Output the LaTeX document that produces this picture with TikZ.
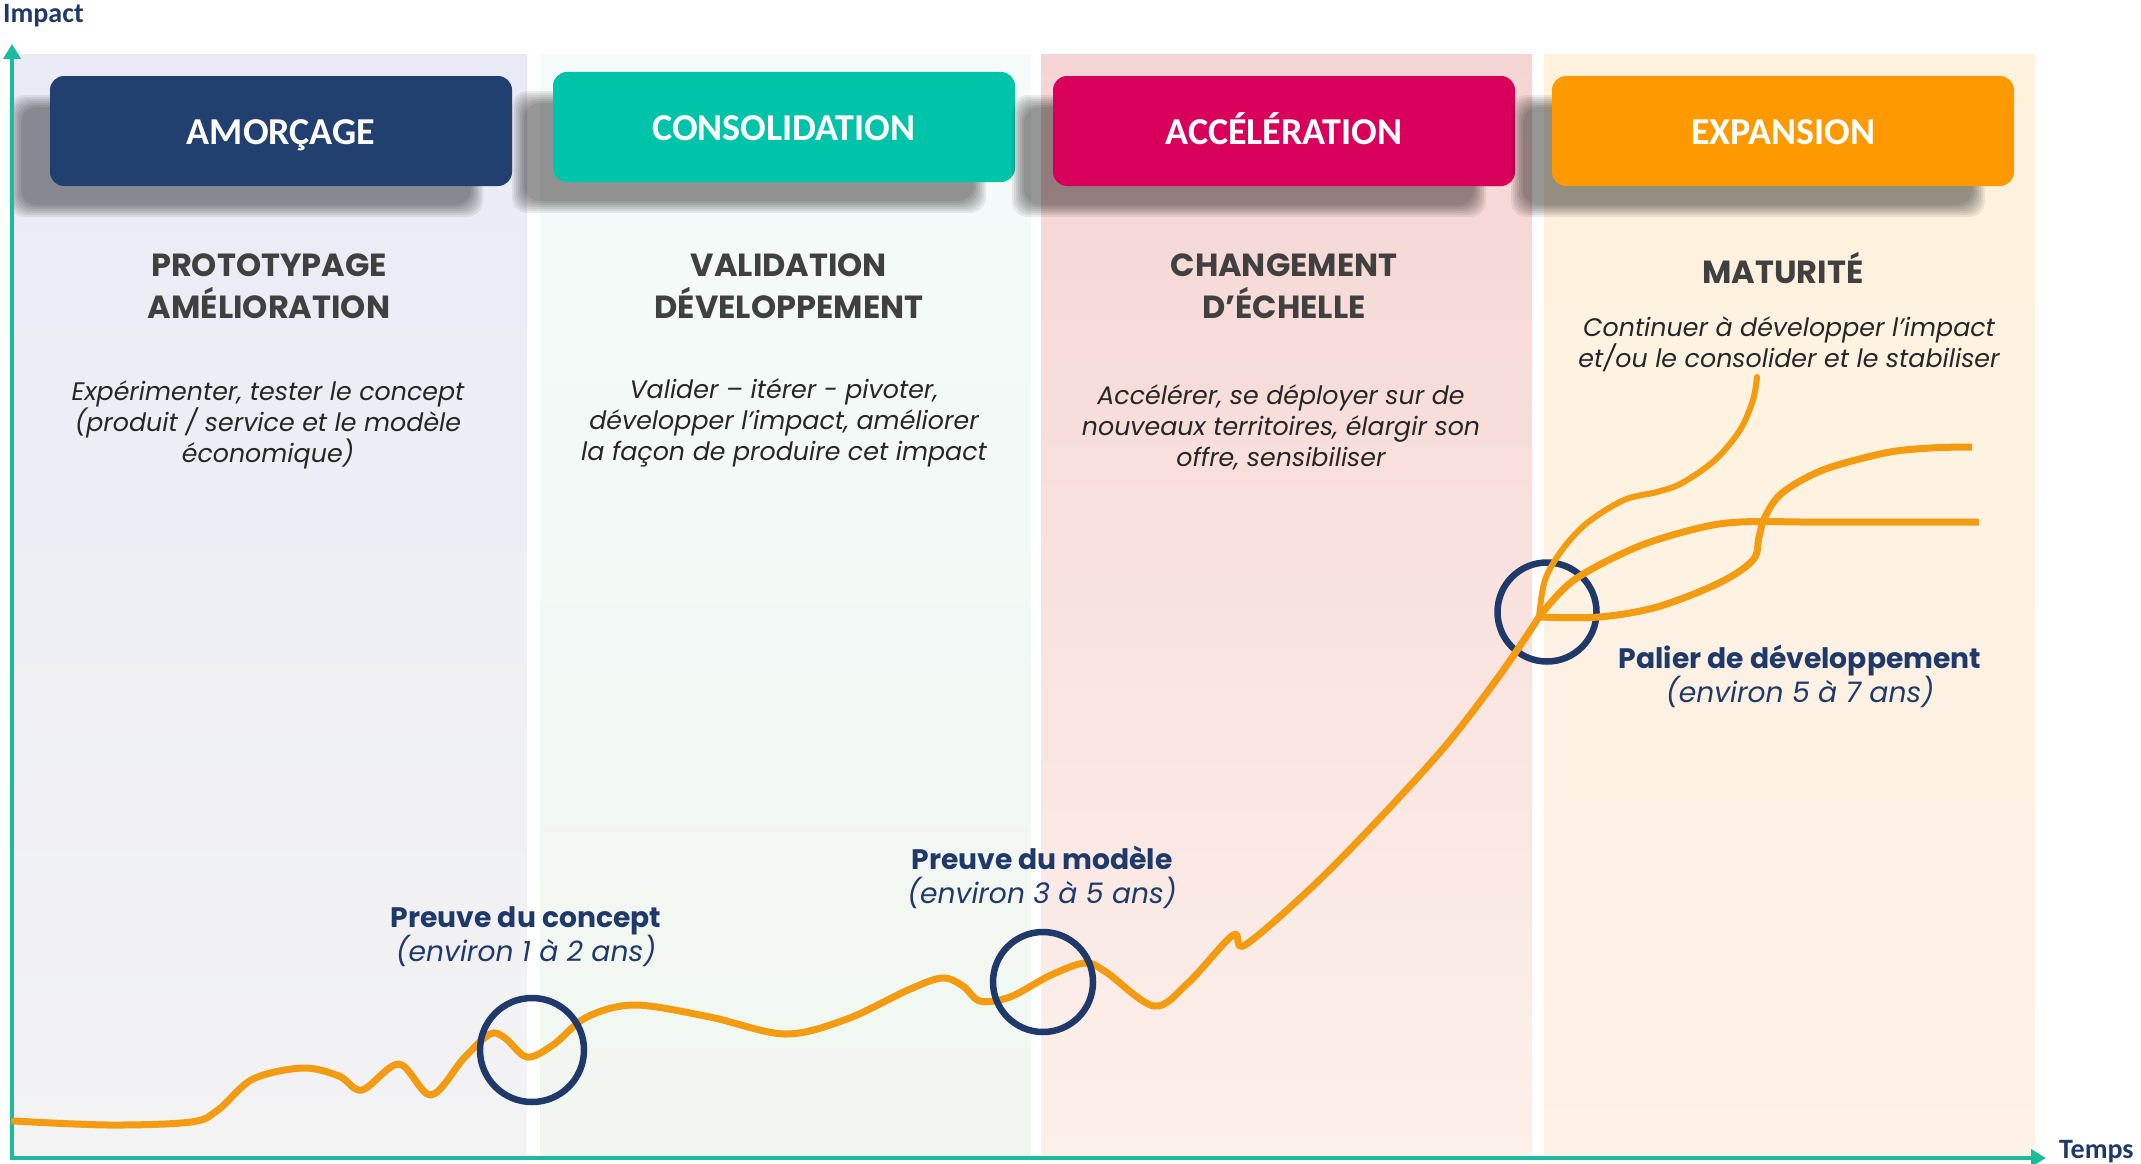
\documentclass[tikz,border=0pt]{standalone}
\usepackage{fontspec}
\newfontfamily\popfont{Poppins}
\newfontfamily\carfont{Carlito}
\usetikzlibrary{arrows.meta}
\definecolor{navy}{RGB}{31,58,106}
\definecolor{boxnavy}{RGB}{33,64,112}
\definecolor{boxteal}{RGB}{0,196,170}
\definecolor{boxred}{RGB}{216,0,90}
\definecolor{boxorange}{RGB}{255,153,0}
\definecolor{axisteal}{RGB}{26,188,156}
\definecolor{curveorange}{RGB}{243,156,18}
\definecolor{headgray}{RGB}{64,64,64}
\definecolor{descgray}{RGB}{38,38,38}
\definecolor{pAtop}{RGB}{233,234,245}
\definecolor{pAbot}{RGB}{243,243,244}
\definecolor{pBtop}{RGB}{244,251,250}
\definecolor{pBbot}{RGB}{241,246,240}
\definecolor{pCtop}{RGB}{245,213,211}
\definecolor{pCbot}{RGB}{252,240,235}
\definecolor{pDtop}{RGB}{254,242,221}
\definecolor{pDbot}{RGB}{253,241,232}
\tikzset{
  hdr/.style={rounded corners=14, minimum width=462, minimum height=110, inner sep=0,
    text height=27, text depth=0,
    text=white, font=\carfont\bfseries\fontsize{38}{44}\selectfont},
  subttl/.style={align=center, text=headgray, inner sep=0,
    font=\popfont\bfseries\fontsize{32}{42}\selectfont},
  desc/.style={align=center, text=descgray, inner sep=0,
    font=\popfont\itshape\fontsize{25.3}{31}\selectfont},
  milestone/.style={align=center, text=navy, inner sep=0,
    font=\popfont\fontsize{28.2}{34}\selectfont},
  ring/.style={circle, draw=navy, line width=6.5, inner sep=0},
  curve/.style={draw=curveorange, line width=7, line cap=round, line join=round},
  axislbl/.style={text=navy, inner sep=0, font=\carfont\bfseries\fontsize{28}{32}\selectfont}
}
\newcommand\hdrbox[5]{%
  \foreach \i in {0,2,...,12}{
    \fill[black,opacity=0.072,rounded corners=16]
      ({#2-231-35-6+\i},{#3-55+25-6+\i}) rectangle ({#2+231-35+6-\i},{#3+55+25+6-\i});
  }
  \node[hdr, fill=#4] (#1) at (#2,#3) {#5};
}
\begin{document}
\begin{tikzpicture}[x=1pt,y=-1pt]
\useasboundingbox (0,0) rectangle (2141,1164);
\fill[white] (0,0) rectangle (2141,1164);
% panels
\shade[top color=pAtop, bottom color=pAbot] (14,55) rectangle (527,1157);
\shade[top color=pBtop, bottom color=pBbot] (540,55) rectangle (1031,1157);
\shade[top color=pCtop, bottom color=pCbot] (1041,55) rectangle (1532,1157);
\shade[top color=pDtop, bottom color=pDbot] (1544,55) rectangle (2035,1157);
% headers
\hdrbox{hAmor}{281}{131}{boxnavy}{AMORÇAGE}
\hdrbox{hCons}{784}{127}{boxteal}{CONSOLIDATION}
\hdrbox{hAcc}{1284}{131}{boxred}{ACCÉLÉRATION}
\hdrbox{hExp}{1783}{131}{boxorange}{EXPANSION}
% subtitles
\node[subttl] (sA) at (269,286) {PROTOTYPAGE\\AMÉLIORATION};
\node[subttl] (sB) at (789,286) {VALIDATION\\DÉVELOPPEMENT};
\node[subttl] (sC) at (1284,286) {CHANGEMENT\\D’ÉCHELLE};
\node[subttl] (sD) at (1783,268) {MATURITÉ};
% descriptions
\node[desc] (dA) at (268,425) {Expérimenter, tester le concept\\(produit / service et le modèle\\économique)};
\node[desc] (dB) at (784,423) {Valider – itérer - pivoter,\\développer l’impact, améliorer\\la façon de produire cet impact};
\node[desc] (dC) at (1281,427) {Accélérer, se déployer sur de\\nouveaux territoires, élargir son\\offre, sensibiliser};
\node[desc] (dD) at (1789,344) {Continuer à développer l’impact\\et/ou le consolider et le stabiliser};
% axes
\coordinate (origin) at (12,1158);
\coordinate (ytip) at (12,44);
\coordinate (xtip) at (2046,1158);
\draw[axisteal, line width=4, {Triangle[length=15,width=17]}-{Triangle[length=15,width=17]}] (ytip) -- (origin) -- (xtip);
\node[axislbl, anchor=west] (impact) at (3,16) {Impact};
\node[axislbl, anchor=west] (temps) at (2059,1152) {Temps};
% ring behind branches
\node[ring, minimum size=99] (r3) at (1547,612) {};
% main curve
\draw[curve] plot[smooth, tension=0.55] coordinates {
 (14,1121) (109,1125) (191,1122) (218,1110) (253,1079) (303,1068) (339,1076)
 (362,1090) (399,1064) (431,1095) (464,1058) (490,1034) (505,1038) (527,1057)
 (553,1045) (587,1017) (635,1005) (710,1017) (785,1034) (847,1019) (908,990)
 (942,978) (963,986) (980,1001) (1010,997) (1051,975) (1085,963) (1106,972)
 (1154,1006) (1188,983) (1233,935) (1245,945) (1311,888) (1379,819) (1447,744)
 (1502,672) (1539,617)};
\coordinate (branch) at (1539,617);
% branches
\draw[curve, line width=6] plot[smooth, tension=0.55] coordinates {
 (1539,617) (1545,580) (1562,550) (1587,523) (1624,500) (1657,492) (1682,483)
 (1715,460) (1740,430) (1753,400) (1757,377)};
\draw[curve, line cap=butt] plot[smooth, tension=0.55] coordinates {
 (1539,617) (1574,580) (1637,547) (1699,528) (1740,522) (1800,522)} -- (1979,522);
\draw[curve, line cap=butt] plot[smooth, tension=0.55] coordinates {
 (1539,617) (1599,617) (1657,607) (1719,583) (1753,560) (1759,537) (1765,517)
 (1782,493) (1823,470) (1885,453) (1930,448) (1972,447)};
% rings
\node[ring, minimum size=104] (r1) at (532,1050) {};
\node[ring, minimum size=100] (r2) at (1043,982) {};
% milestone labels
\node[milestone] (m1) at (526,937) {\textbf{Preuve du concept}\\\itshape(environ 1 à 2 ans)};
\node[milestone] (m2) at (1042,877) {\textbf{Preuve du modèle}\\\itshape(environ 3 à 5 ans)};
\node[milestone] (m3) at (1800,676) {\textbf{Palier de développement}\\\itshape(environ 5 à 7 ans)};
\end{tikzpicture}
\end{document}
